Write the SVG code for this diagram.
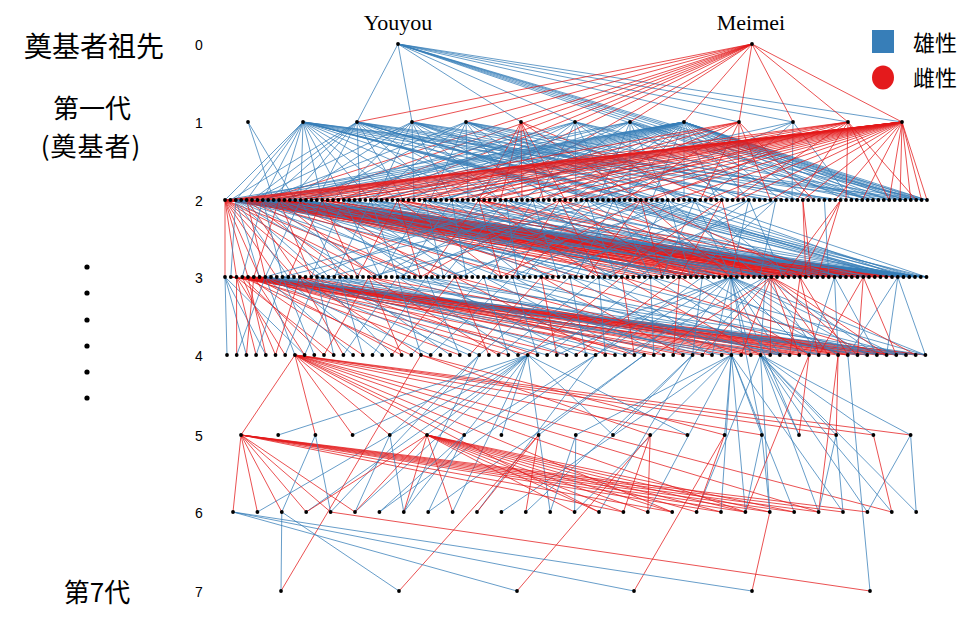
<svg xmlns="http://www.w3.org/2000/svg" width="978" height="626" viewBox="0 0 978 626">
<style>
.e path{fill:none;stroke-width:0.9;stroke-opacity:0.85}
.b{stroke:#377EB8}
.r{stroke:#E41A1C}
.n circle{fill:#000}
.lab{font-family:"Liberation Sans",Arial,sans-serif;font-size:14px;fill:#000;text-anchor:middle}
.cjk{font-family:"Noto Sans CJK SC","Noto Sans CJK JP",sans-serif;fill:#000}
.nm{font-family:"Liberation Serif","Times New Roman",serif;font-size:22px;fill:#000;text-anchor:middle}
</style>
<rect width="978" height="626" fill="#fff"/>
<g id="side-labels">
<text class="cjk" x="24" y="57" font-size="28">奠基者祖先</text>
<text class="cjk" x="92" y="118" font-size="26" text-anchor="middle">第一代</text>
<text class="cjk" x="91" y="156" font-size="26" text-anchor="middle" letter-spacing="1">(奠基者)</text>
<text class="cjk" x="97" y="602" font-size="26" text-anchor="middle">第7代</text>
<circle cx="87" cy="267" r="2.6"/><circle cx="87" cy="293" r="2.6"/><circle cx="87" cy="320" r="2.6"/><circle cx="87" cy="346" r="2.6"/><circle cx="87" cy="372" r="2.6"/><circle cx="87" cy="398" r="2.6"/>
</g>
<g id="gen-labels">
<text class="lab" x="199" y="50">0</text>
<text class="lab" x="199" y="128">1</text>
<text class="lab" x="199" y="206">2</text>
<text class="lab" x="199" y="283">3</text>
<text class="lab" x="199" y="361">4</text>
<text class="lab" x="199" y="441">5</text>
<text class="lab" x="199" y="518">6</text>
<text class="lab" x="199" y="597">7</text>
</g>
<g id="names">
<text class="nm" x="398" y="30">Youyou</text>
<text class="nm" x="751" y="30">Meimei</text>
</g>
<g id="legend">
<rect x="872" y="30" width="22" height="23" fill="#377EB8"/>
<text class="cjk" x="913" y="51" font-size="22">雄性</text>
<ellipse cx="883" cy="77.5" rx="11" ry="12" fill="#E41A1C"/>
<text class="cjk" x="913" y="86" font-size="22">雌性</text>
</g>
<g id="connectors" class="e">
<path class="b" d="M398 44L357 122M398 44L412 122M398 44L521 122M398 44L575 122M398 44L739 122M398 44L793 122M398 44L848 122M398 44L902 122M398 44L856.8 200M398 44L873 200M398 44L889.2 200M398 44L905.4 200M398 44L916.2 200M398 44L927 200"/>
<path class="r" d="M752 44L357 122M752 44L412 122M752 44L466 122M752 44L575 122M752 44L630 122M752 44L684 122M752 44L739 122M752 44L793 122M752 44L848 122M752 44L902 122M752 44L262.8 200M752 44L300.6 200M752 44L338.4 200M752 44L370.8 200M752 44L430.2 200M752 44L478.8 200"/>
<path class="b" d="M248 122L273.6 200M248 122L295.2 200"/>
<path class="b" d="M303 122L225 200M303 122L235.8 200M303 122L246.6 200M303 122L262.8 200M303 122L279 200M303 122L300.6 200M303 122L322.2 200M303 122L343.8 200M303 122L370.8 200M303 122L397.8 200M303 122L435.6 200M303 122L484.2 200M303 122L538.2 200M303 122L597.6 200M303 122L662.4 200M303 122L721.8 200M303 122L786.6 200M303 122L840.6 200M303 122L889.2 200M303 122L921.6 200M303 122L892 277M303 122L903.5 277M303 122L915 277M303 122L926.5 277"/>
<path class="b" d="M357 122L230.4 200M357 122L252 200M357 122L268.2 200M357 122L289.8 200M357 122L316.8 200M357 122L360 200M357 122L403.2 200M357 122L446.4 200M357 122L500.4 200M357 122L570.6 200M357 122L640.8 200M357 122L700.2 200M357 122L770.4 200M357 122L829.8 200M357 122L900 200M357 122L897.8 277M357 122L909.3 277M357 122L920.8 277"/>
<path class="b" d="M412 122L252 200M412 122L289.8 200M412 122L333 200M412 122L376.2 200M412 122L414 200M412 122L451.8 200M412 122L500.4 200M412 122L559.8 200M412 122L624.6 200M412 122L700.2 200M412 122L765 200M412 122L835.2 200M412 122L905.4 200M412 122L886.3 277M412 122L915 277"/>
<path class="b" d="M466 122L262.8 200M466 122L311.4 200M466 122L370.8 200M466 122L430.2 200M466 122L468 200M466 122L522 200M466 122L586.8 200M466 122L651.6 200M466 122L732.6 200M466 122L797.4 200M466 122L862.2 200M466 122L921.6 200M466 122L903.5 277M466 122L926.5 277"/>
<path class="r" d="M521 122L478.8 200M521 122L500.4 200M521 122L522 200M521 122L543.6 200M521 122L565.2 200M521 122L640.8 200M521 122L716.4 200"/>
<path class="b" d="M575 122L279 200M575 122L343.8 200M575 122L408.6 200M575 122L473.4 200M575 122L538.2 200M575 122L576 200M575 122L613.8 200M575 122L678.6 200M575 122L743.4 200M575 122L808.2 200M575 122L873 200M575 122L927 200"/>
<path class="b" d="M630 122L235.8 200M630 122L300.6 200M630 122L381.6 200M630 122L446.4 200M630 122L522 200M630 122L597.6 200M630 122L630 200M630 122L667.8 200M630 122L727.2 200M630 122L797.4 200M630 122L867.6 200M630 122L921.6 200"/>
<path class="b" d="M684 122L225 200M684 122L241.2 200M684 122L257.4 200M684 122L273.6 200M684 122L289.8 200M684 122L311.4 200M684 122L333 200M684 122L354.6 200M684 122L376.2 200M684 122L397.8 200M684 122L419.4 200M684 122L441 200M684 122L462.6 200M684 122L489.6 200M684 122L516.6 200M684 122L543.6 200M684 122L570.6 200M684 122L597.6 200M684 122L624.6 200M684 122L651.6 200M684 122L684 200M684 122L716.4 200M684 122L748.8 200M684 122L781.2 200M684 122L813.6 200M684 122L846 200M684 122L867.6 200M684 122L878.4 200M684 122L889.2 200M684 122L900 200M684 122L905.4 200M684 122L910.8 200M684 122L916.2 200M684 122L921.6 200M684 122L927 200"/>
<path class="r" d="M739 122L300.6 200M739 122L381.6 200M739 122L462.6 200M739 122L543.6 200M739 122L624.6 200M739 122L700.2 200M739 122L738 200M739 122L770.4 200M739 122L813.6 200"/>
<path class="b" d="M793 122L435.6 200M793 122L597.6 200M793 122L705.6 200M793 122L792 200M793 122L851.4 200"/>
<path class="r" d="M848 122L262.8 200M848 122L333 200M848 122L408.6 200M848 122L484.2 200M848 122L565.2 200M848 122L651.6 200M848 122L732.6 200M848 122L797.4 200M848 122L846 200M848 122L889.2 200M848 122L916.2 200"/>
<path class="r" d="M902 122L225 200M902 122L230.4 200M902 122L235.8 200M902 122L241.2 200M902 122L246.6 200M902 122L257.4 200M902 122L268.2 200M902 122L279 200M902 122L295.2 200M902 122L311.4 200M902 122L327.6 200M902 122L349.2 200M902 122L370.8 200M902 122L392.4 200M902 122L419.4 200M902 122L446.4 200M902 122L473.4 200M902 122L500.4 200M902 122L527.4 200M902 122L554.4 200M902 122L581.4 200M902 122L608.4 200M902 122L640.8 200M902 122L673.2 200M902 122L705.6 200M902 122L738 200M902 122L770.4 200M902 122L802.8 200M902 122L835.2 200M902 122L862.2 200M902 122L889.2 200M902 122L900 200M902 122L910.8 200M902 122L921.6 200M902 122L927 200"/>
<path class="r" d="M225 200L225 277M225 200L236.5 277M225 200L248 277M225 200L259.5 277M225 200L276.8 277M225 200L294 277M225 200L317 277M225 200L345.8 277M225 200L380.3 277M225 200L420.5 277M225 200L702.3 277M225 200L736.8 277M225 200L765.5 277M225 200L788.5 277M225 200L811.5 277M225 200L828.8 277M225 200L846 277M225 200L857.5 277M225 200L869 277M225 200L880.5 277M225 200L892 277M225 200L903.5 277"/>
<path class="r" d="M230.4 200L650.5 277M230.4 200L696.5 277M230.4 200L742.5 277M230.4 200L777 277M230.4 200L805.8 277M230.4 200L834.5 277M230.4 200L857.5 277M230.4 200L874.8 277M230.4 200L886.3 277"/>
<path class="r" d="M241.2 200L662 277M241.2 200L708 277M241.2 200L748.3 277M241.2 200L782.8 277M241.2 200L811.5 277M241.2 200L840.3 277M241.2 200L863.3 277M241.2 200L880.5 277M241.2 200L897.8 277"/>
<path class="r" d="M257.4 200L673.5 277M257.4 200L719.5 277M257.4 200L754 277M257.4 200L794.3 277M257.4 200L823 277M257.4 200L851.8 277M257.4 200L869 277M257.4 200L892 277"/>
<path class="r" d="M268.2 200L685 277M268.2 200L725.3 277M268.2 200L765.5 277M268.2 200L800 277M268.2 200L828.8 277M268.2 200L857.5 277M268.2 200L874.8 277"/>
<path class="r" d="M284.4 200L696.5 277M284.4 200L736.8 277M284.4 200L771.3 277M284.4 200L811.5 277M284.4 200L846 277M284.4 200L869 277"/>
<path class="b" d="M252 200L909.3 277M252 200L915 277M252 200L920.8 277M252 200L926.5 277M273.6 200L903.5 277M273.6 200L915 277M273.6 200L926.5 277M289.8 200L897.8 277M289.8 200L909.3 277M289.8 200L920.8 277"/>
<path class="b" d="M235.8 200L230.8 277M235.8 200L259.5 277M235.8 200L288.3 277M235.8 200L322.8 277M235.8 200L363 277M235.8 200L409 277M235.8 200L466.5 277M235.8 200L541.3 277M235.8 200L621.8 277M235.8 200L708 277M235.8 200L800 277M235.8 200L880.5 277M235.8 200L915 277M235.8 200L926.5 277"/>
<path class="r" d="M246.6 200L265.3 277M246.6 200L299.8 277M246.6 200L351.5 277M246.6 200L420.5 277M246.6 200L518.3 277M246.6 200L639 277M246.6 200L759.8 277M246.6 200L840.3 277M246.6 200L869 277M246.6 200L897.8 277"/>
<path class="b" d="M262.8 200L242.3 277M262.8 200L282.5 277M262.8 200L328.5 277M262.8 200L380.3 277M262.8 200L443.5 277M262.8 200L529.8 277M262.8 200L616 277M262.8 200L702.3 277M262.8 200L782.8 277M262.8 200L857.5 277M262.8 200L903.5 277M262.8 200L920.8 277"/>
<path class="r" d="M279 200L253.8 277M279 200L311.3 277M279 200L374.5 277M279 200L460.8 277M279 200L581.5 277M279 200L719.5 277M279 200L788.5 277M279 200L817.3 277M279 200L846 277M279 200L874.8 277"/>
<path class="b" d="M300.6 200L265.3 277M300.6 200L340 277M300.6 200L420.5 277M300.6 200L501 277M300.6 200L593 277M300.6 200L685 277M300.6 200L771.3 277M300.6 200L851.8 277M300.6 200L909.3 277M300.6 200L926.5 277"/>
<path class="r" d="M322.2 200L288.3 277M322.2 200L357.3 277M322.2 200L437.8 277M322.2 200L558.5 277M322.2 200L702.3 277M322.2 200L800 277M322.2 200L834.5 277M322.2 200L863.3 277"/>
<path class="b" d="M343.8 200L311.3 277M343.8 200L380.3 277M343.8 200L460.8 277M343.8 200L552.8 277M343.8 200L650.5 277M343.8 200L748.3 277M343.8 200L840.3 277M343.8 200L920.8 277"/>
<path class="b" d="M370.8 200L334.3 277M370.8 200L397.5 277M370.8 200L478 277M370.8 200L575.8 277M370.8 200L673.5 277M370.8 200L771.3 277M370.8 200L863.3 277M370.8 200L926.5 277"/>
<path class="r" d="M397.8 200L357.3 277M397.8 200L420.5 277M397.8 200L501 277M397.8 200L610.3 277M397.8 200L731 277M397.8 200L811.5 277M397.8 200L857.5 277"/>
<path class="b" d="M424.8 200L380.3 277M424.8 200L443.5 277M424.8 200L524 277M424.8 200L621.8 277M424.8 200L719.5 277M424.8 200L817.3 277M424.8 200L897.8 277"/>
<path class="b" d="M451.8 200L403.3 277M451.8 200L466.5 277M451.8 200L547 277M451.8 200L644.8 277M451.8 200L742.5 277M451.8 200L846 277M451.8 200L920.8 277"/>
<path class="r" d="M478.8 200L426.3 277M478.8 200L501 277M478.8 200L598.8 277M478.8 200L702.3 277M478.8 200L788.5 277M478.8 200L840.3 277M478.8 200L880.5 277"/>
<path class="b" d="M505.8 200L311.3 277M505.8 200L443.5 277M505.8 200L518.3 277M505.8 200L610.3 277M505.8 200L719.5 277M505.8 200L823 277M505.8 200L915 277"/>
<path class="b" d="M532.8 200L265.3 277M532.8 200L374.5 277M532.8 200L489.5 277M532.8 200L558.5 277M532.8 200L650.5 277M532.8 200L759.8 277M532.8 200L869 277"/>
<path class="r" d="M559.8 200L420.5 277M559.8 200L512.5 277M559.8 200L598.8 277M559.8 200L679.3 277M559.8 200L771.3 277M559.8 200L851.8 277"/>
<path class="b" d="M586.8 200L282.5 277M586.8 200L397.5 277M586.8 200L524 277M586.8 200L616 277M586.8 200L702.3 277M586.8 200L800 277M586.8 200L903.5 277"/>
<path class="b" d="M613.8 200L328.5 277M613.8 200L460.8 277M613.8 200L575.8 277M613.8 200L650.5 277M613.8 200L742.5 277M613.8 200L840.3 277"/>
<path class="r" d="M640.8 200L501 277M640.8 200L587.3 277M640.8 200L662 277M640.8 200L731 277M640.8 200L805.8 277"/>
<path class="b" d="M667.8 200L368.8 277M667.8 200L512.5 277M667.8 200L621.8 277M667.8 200L690.8 277M667.8 200L759.8 277"/>
<path class="b" d="M694.8 200L443.5 277M694.8 200L558.5 277M694.8 200L662 277M694.8 200L731 277M694.8 200L788.5 277"/>
<path class="r" d="M721.8 200L610.3 277M721.8 200L679.3 277M721.8 200L742.5 277"/>
<path class="b" d="M748.8 200L535.5 277M748.8 200L639 277M748.8 200L731 277M748.8 200L782.8 277"/>
<path class="b" d="M775.8 200L598.8 277M775.8 200L690.8 277M775.8 200L759.8 277"/>
<path class="r" d="M802.8 200L805.8 277M802.8 200L811.5 277"/>
<path class="b" d="M824.4 200L828.8 277"/>
<path class="r" d="M840.6 200L782.8 277M840.6 200L800 277M840.6 200L817.3 277"/>
<path class="b" d="M225 277L227 355M225 277L246.4 355M225 277L265.8 355M225 277L304.6 355"/>
<path class="r" d="M236.5 277L236.7 355M236.5 277L256.1 355M236.5 277L285.2 355M236.5 277L333.7 355"/>
<path class="r" d="M230.8 277L702.3 355M230.8 277L750.8 355M230.8 277L799.3 355M230.8 277L847.8 355M230.8 277L886.6 355M259.5 277L731.4 355M259.5 277L779.9 355M259.5 277L828.4 355M259.5 277L867.2 355M259.5 277L896.3 355M259.5 277L925.4 355"/>
<path class="r" d="M242.3 277L275.5 355M242.3 277L324 355M242.3 277L411.3 355M242.3 277L508.3 355M242.3 277L615 355M242.3 277L712 355M242.3 277L789.6 355M242.3 277L838.1 355M242.3 277L867.2 355M242.3 277L886.6 355M242.3 277L906 355M242.3 277L925.4 355"/>
<path class="r" d="M248 277L265.8 355M248 277L362.8 355M248 277L459.8 355M248 277L566.5 355M248 277L663.5 355M248 277L760.5 355M248 277L818.7 355M248 277L857.5 355M248 277L896.3 355M248 277L915.7 355"/>
<path class="r" d="M253.8 277L246.4 355M253.8 277L304.6 355M253.8 277L401.6 355M253.8 277L527.7 355M253.8 277L653.8 355M253.8 277L770.2 355M253.8 277L847.8 355M253.8 277L876.9 355"/>
<path class="b" d="M265.3 277L236.7 355M265.3 277L294.9 355M265.3 277L353.1 355M265.3 277L430.7 355M265.3 277L547.1 355M265.3 277L692.6 355M265.3 277L828.4 355M265.3 277L906 355"/>
<path class="b" d="M282.5 277L256.1 355M282.5 277L314.3 355M282.5 277L382.2 355M282.5 277L469.5 355M282.5 277L595.6 355M282.5 277L741.1 355M282.5 277L886.6 355"/>
<path class="r" d="M299.8 277L275.5 355M299.8 277L343.4 355M299.8 277L421 355M299.8 277L537.4 355M299.8 277L682.9 355M299.8 277L809 355"/>
<path class="b" d="M317 277L285.2 355M317 277L333.7 355M317 277L391.9 355M317 277L479.2 355M317 277L624.7 355M317 277L779.9 355M317 277L915.7 355"/>
<path class="b" d="M340 277L304.6 355M340 277L362.8 355M340 277L450.1 355M340 277L566.5 355M340 277L721.7 355M340 277L867.2 355"/>
<path class="r" d="M368.8 277L324 355M368.8 277L401.6 355M368.8 277L498.6 355M368.8 277L634.4 355M368.8 277L799.3 355"/>
<path class="b" d="M397.5 277L343.4 355M397.5 277L421 355M397.5 277L518 355M397.5 277L644.1 355M397.5 277L789.6 355M397.5 277L925.4 355"/>
<path class="b" d="M426.3 277L372.5 355M426.3 277L459.8 355M426.3 277L576.2 355M426.3 277L702.3 355M426.3 277L857.5 355"/>
<path class="r" d="M455 277L391.9 355M455 277L488.9 355M455 277L605.3 355M455 277L750.8 355"/>
<path class="b" d="M483.8 277L411.3 355M483.8 277L508.3 355M483.8 277L634.4 355M483.8 277L779.9 355M483.8 277L896.3 355"/>
<path class="b" d="M512.5 277L430.7 355M512.5 277L537.4 355M512.5 277L663.5 355M512.5 277L818.7 355"/>
<path class="r" d="M541.3 277L469.5 355M541.3 277L556.8 355M541.3 277L682.9 355M541.3 277L847.8 355"/>
<path class="b" d="M570 277L479.2 355M570 277L585.9 355M570 277L712 355M570 277L876.9 355"/>
<path class="b" d="M598.8 277L498.6 355M598.8 277L605.3 355M598.8 277L731.4 355M598.8 277L906 355"/>
<path class="r" d="M621.8 277L527.7 355M621.8 277L634.4 355M621.8 277L760.5 355M621.8 277L886.6 355"/>
<path class="b" d="M650.5 277L547.1 355M650.5 277L653.8 355M650.5 277L779.9 355M650.5 277L925.4 355"/>
<path class="r" d="M679.3 277L576.2 355M679.3 277L673.2 355M679.3 277L809 355"/>
<path class="b" d="M702.3 277L595.6 355M702.3 277L692.6 355M702.3 277L838.1 355"/>
<path class="b" d="M731 277L518 355M731 277L556.8 355M731 277L595.6 355M731 277L634.4 355M731 277L673.2 355M731 277L712 355M731 277L731.4 355M731 277L750.8 355M731 277L779.9 355M731 277L809 355M731 277L838.1 355M731 277L867.2 355M731 277L896.3 355M731 277L925.4 355M731 277L761.8 435M731 277L799 435"/>
<path class="b" d="M765.5 277L624.7 355M765.5 277L692.6 355M765.5 277L760.5 355M765.5 277L818.7 355M765.5 277L876.9 355"/>
<path class="r" d="M771.3 277L653.8 355M771.3 277L702.3 355M771.3 277L741.1 355M771.3 277L770.2 355M771.3 277L799.3 355M771.3 277L828.4 355M771.3 277L857.5 355M771.3 277L886.6 355M771.3 277L915.7 355"/>
<path class="r" d="M800 277L789.6 355M800 277L818.7 355M800 277L847.8 355"/>
<path class="b" d="M834.5 277L809 355M834.5 277L838.1 355M834.5 277L876.9 355"/>
<path class="r" d="M863.3 277L818.7 355M863.3 277L857.5 355M863.3 277L896.3 355"/>
<path class="b" d="M897.8 277L847.8 355M897.8 277L886.6 355M897.8 277L925.4 355"/>
<path class="r" d="M294.9 355L241 435M294.9 355L315.4 435M294.9 355L352.6 435M294.9 355L389.8 435M294.9 355L427 435M294.9 355L464.2 435M294.9 355L687.4 435M294.9 355L761.8 435M294.9 355L836.2 435M294.9 355L873.4 435M294.9 355L910.6 435M294.9 355L599 512M294.9 355L672.2 512M294.9 355L745.4 512M294.9 355L818.6 512M294.9 355L891.8 512"/>
<path class="b" d="M527.7 355L278.2 435M527.7 355L352.6 435M527.7 355L427 435M527.7 355L501.4 435M527.7 355L613 435M527.7 355L687.4 435M527.7 355L257.4 512M527.7 355L306.2 512M527.7 355L355 512M527.7 355L403.8 512M527.7 355L452.6 512M527.7 355L550.2 512"/>
<path class="b" d="M731.4 355L575.8 435M731.4 355L724.6 435M731.4 355L761.8 435M731.4 355L501.4 512M731.4 355L574.6 512M731.4 355L647.8 512M731.4 355L721 512M731.4 355L745.4 512M731.4 355L794.2 512M731.4 355L843 512"/>
<path class="b" d="M760.5 355L799 435M760.5 355L836.2 435M760.5 355L873.4 435M760.5 355L910.6 435M760.5 355L696.6 512M760.5 355L769.8 512M760.5 355L818.6 512M760.5 355L867.4 512M760.5 355L891.8 512M760.5 355L916.2 512"/>
<path class="r" d="M809 355L799 435M809 355L745.4 512M838.1 355L836.2 435M838.1 355L818.6 512"/>
<path class="b" d="M847.8 355L870 591"/>
<path class="r" d="M421 355L650.2 435M421 355L724.6 435M421 355L281 591"/>
<path class="b" d="M479.2 355L389.8 435M479.2 355L403.8 512M479.2 355L330.6 512M595.6 355L464.2 435M595.6 355L477 512M595.6 355L379.4 512M644.1 355L538.6 435M644.1 355L428.2 512M692.6 355L613 435M692.6 355L525.8 512M692.6 355L599 512"/>
<path class="r" d="M241 435L233 512M241 435L257.4 512M241 435L281.8 512M241 435L306.2 512M241 435L330.6 512M241 435L355 512M241 435L623.4 512M241 435L672.2 512M241 435L721 512M241 435L745.4 512M241 435L769.8 512M241 435L794.2 512M241 435L818.6 512M241 435L843 512M241 435L867.4 512"/>
<path class="r" d="M427 435L306.2 512M427 435L355 512M427 435L403.8 512M427 435L452.6 512M427 435L574.6 512M427 435L599 512M427 435L623.4 512M427 435L647.8 512M427 435L672.2 512M427 435L696.6 512M427 435L721 512M427 435L745.4 512M427 435L769.8 512M427 435L794.2 512"/>
<path class="b" d="M315.4 435L281.8 512M315.4 435L330.6 512M389.8 435L355 512M389.8 435L403.8 512M464.2 435L379.4 512M464.2 435L428.2 512M575.8 435L550.2 512M575.8 435L574.6 512M761.8 435L745.4 512M761.8 435L769.8 512M836.2 435L818.6 512M836.2 435L843 512M910.6 435L867.4 512M910.6 435L916.2 512"/>
<path class="r" d="M538.6 435L477 512M538.6 435L525.8 512M538.6 435L399 591M650.2 435L623.4 512M650.2 435L647.8 512M650.2 435L517 591M724.6 435L696.6 512M724.6 435L634 591M873.4 435L891.8 512"/>
<path class="b" d="M281.8 512L281 591M281.8 512L399 591M233 512L517 591M233 512L634 591M233 512L752 591"/>
<path class="r" d="M330.6 512L870 591M769.8 512L752 591"/>
</g>
<g id="nodes" class="n">
<g id="youyou"><circle cx="398" cy="44" r="1.9"/></g>
<g id="meimei"><circle cx="752" cy="44" r="1.9"/></g>
<g id="g1-0"><circle cx="248" cy="122" r="1.9"/></g>
<g id="g1-1"><circle cx="303" cy="122" r="1.9"/></g>
<g id="g1-2"><circle cx="357" cy="122" r="1.9"/></g>
<g id="g1-3"><circle cx="412" cy="122" r="1.9"/></g>
<g id="g1-4"><circle cx="466" cy="122" r="1.9"/></g>
<g id="g1-5"><circle cx="521" cy="122" r="1.9"/></g>
<g id="g1-6"><circle cx="575" cy="122" r="1.9"/></g>
<g id="g1-7"><circle cx="630" cy="122" r="1.9"/></g>
<g id="g1-8"><circle cx="684" cy="122" r="1.9"/></g>
<g id="g1-9"><circle cx="739" cy="122" r="1.9"/></g>
<g id="g1-10"><circle cx="793" cy="122" r="1.9"/></g>
<g id="g1-11"><circle cx="848" cy="122" r="1.9"/></g>
<g id="g1-12"><circle cx="902" cy="122" r="1.9"/></g>
<g id="g2-0"><circle cx="225" cy="200" r="1.9"/></g>
<g id="g2-1"><circle cx="230.4" cy="200" r="1.9"/></g>
<g id="g2-2"><circle cx="235.8" cy="200" r="1.9"/></g>
<g id="g2-3"><circle cx="241.2" cy="200" r="1.9"/></g>
<g id="g2-4"><circle cx="246.6" cy="200" r="1.9"/></g>
<g id="g2-5"><circle cx="252" cy="200" r="1.9"/></g>
<g id="g2-6"><circle cx="257.4" cy="200" r="1.9"/></g>
<g id="g2-7"><circle cx="262.8" cy="200" r="1.9"/></g>
<g id="g2-8"><circle cx="268.2" cy="200" r="1.9"/></g>
<g id="g2-9"><circle cx="273.6" cy="200" r="1.9"/></g>
<g id="g2-10"><circle cx="279" cy="200" r="1.9"/></g>
<g id="g2-11"><circle cx="284.4" cy="200" r="1.9"/></g>
<g id="g2-12"><circle cx="289.8" cy="200" r="1.9"/></g>
<g id="g2-13"><circle cx="295.2" cy="200" r="1.9"/></g>
<g id="g2-14"><circle cx="300.6" cy="200" r="1.9"/></g>
<g id="g2-15"><circle cx="306" cy="200" r="1.9"/></g>
<g id="g2-16"><circle cx="311.4" cy="200" r="1.9"/></g>
<g id="g2-17"><circle cx="316.8" cy="200" r="1.9"/></g>
<g id="g2-18"><circle cx="322.2" cy="200" r="1.9"/></g>
<g id="g2-19"><circle cx="327.6" cy="200" r="1.9"/></g>
<g id="g2-20"><circle cx="333" cy="200" r="1.9"/></g>
<g id="g2-21"><circle cx="338.4" cy="200" r="1.9"/></g>
<g id="g2-22"><circle cx="343.8" cy="200" r="1.9"/></g>
<g id="g2-23"><circle cx="349.2" cy="200" r="1.9"/></g>
<g id="g2-24"><circle cx="354.6" cy="200" r="1.9"/></g>
<g id="g2-25"><circle cx="360" cy="200" r="1.9"/></g>
<g id="g2-26"><circle cx="365.4" cy="200" r="1.9"/></g>
<g id="g2-27"><circle cx="370.8" cy="200" r="1.9"/></g>
<g id="g2-28"><circle cx="376.2" cy="200" r="1.9"/></g>
<g id="g2-29"><circle cx="381.6" cy="200" r="1.9"/></g>
<g id="g2-30"><circle cx="387" cy="200" r="1.9"/></g>
<g id="g2-31"><circle cx="392.4" cy="200" r="1.9"/></g>
<g id="g2-32"><circle cx="397.8" cy="200" r="1.9"/></g>
<g id="g2-33"><circle cx="403.2" cy="200" r="1.9"/></g>
<g id="g2-34"><circle cx="408.6" cy="200" r="1.9"/></g>
<g id="g2-35"><circle cx="414" cy="200" r="1.9"/></g>
<g id="g2-36"><circle cx="419.4" cy="200" r="1.9"/></g>
<g id="g2-37"><circle cx="424.8" cy="200" r="1.9"/></g>
<g id="g2-38"><circle cx="430.2" cy="200" r="1.9"/></g>
<g id="g2-39"><circle cx="435.6" cy="200" r="1.9"/></g>
<g id="g2-40"><circle cx="441" cy="200" r="1.9"/></g>
<g id="g2-41"><circle cx="446.4" cy="200" r="1.9"/></g>
<g id="g2-42"><circle cx="451.8" cy="200" r="1.9"/></g>
<g id="g2-43"><circle cx="457.2" cy="200" r="1.9"/></g>
<g id="g2-44"><circle cx="462.6" cy="200" r="1.9"/></g>
<g id="g2-45"><circle cx="468" cy="200" r="1.9"/></g>
<g id="g2-46"><circle cx="473.4" cy="200" r="1.9"/></g>
<g id="g2-47"><circle cx="478.8" cy="200" r="1.9"/></g>
<g id="g2-48"><circle cx="484.2" cy="200" r="1.9"/></g>
<g id="g2-49"><circle cx="489.6" cy="200" r="1.9"/></g>
<g id="g2-50"><circle cx="495" cy="200" r="1.9"/></g>
<g id="g2-51"><circle cx="500.4" cy="200" r="1.9"/></g>
<g id="g2-52"><circle cx="505.8" cy="200" r="1.9"/></g>
<g id="g2-53"><circle cx="511.2" cy="200" r="1.9"/></g>
<g id="g2-54"><circle cx="516.6" cy="200" r="1.9"/></g>
<g id="g2-55"><circle cx="522" cy="200" r="1.9"/></g>
<g id="g2-56"><circle cx="527.4" cy="200" r="1.9"/></g>
<g id="g2-57"><circle cx="532.8" cy="200" r="1.9"/></g>
<g id="g2-58"><circle cx="538.2" cy="200" r="1.9"/></g>
<g id="g2-59"><circle cx="543.6" cy="200" r="1.9"/></g>
<g id="g2-60"><circle cx="549" cy="200" r="1.9"/></g>
<g id="g2-61"><circle cx="554.4" cy="200" r="1.9"/></g>
<g id="g2-62"><circle cx="559.8" cy="200" r="1.9"/></g>
<g id="g2-63"><circle cx="565.2" cy="200" r="1.9"/></g>
<g id="g2-64"><circle cx="570.6" cy="200" r="1.9"/></g>
<g id="g2-65"><circle cx="576" cy="200" r="1.9"/></g>
<g id="g2-66"><circle cx="581.4" cy="200" r="1.9"/></g>
<g id="g2-67"><circle cx="586.8" cy="200" r="1.9"/></g>
<g id="g2-68"><circle cx="592.2" cy="200" r="1.9"/></g>
<g id="g2-69"><circle cx="597.6" cy="200" r="1.9"/></g>
<g id="g2-70"><circle cx="603" cy="200" r="1.9"/></g>
<g id="g2-71"><circle cx="608.4" cy="200" r="1.9"/></g>
<g id="g2-72"><circle cx="613.8" cy="200" r="1.9"/></g>
<g id="g2-73"><circle cx="619.2" cy="200" r="1.9"/></g>
<g id="g2-74"><circle cx="624.6" cy="200" r="1.9"/></g>
<g id="g2-75"><circle cx="630" cy="200" r="1.9"/></g>
<g id="g2-76"><circle cx="635.4" cy="200" r="1.9"/></g>
<g id="g2-77"><circle cx="640.8" cy="200" r="1.9"/></g>
<g id="g2-78"><circle cx="646.2" cy="200" r="1.9"/></g>
<g id="g2-79"><circle cx="651.6" cy="200" r="1.9"/></g>
<g id="g2-80"><circle cx="657" cy="200" r="1.9"/></g>
<g id="g2-81"><circle cx="662.4" cy="200" r="1.9"/></g>
<g id="g2-82"><circle cx="667.8" cy="200" r="1.9"/></g>
<g id="g2-83"><circle cx="673.2" cy="200" r="1.9"/></g>
<g id="g2-84"><circle cx="678.6" cy="200" r="1.9"/></g>
<g id="g2-85"><circle cx="684" cy="200" r="1.9"/></g>
<g id="g2-86"><circle cx="689.4" cy="200" r="1.9"/></g>
<g id="g2-87"><circle cx="694.8" cy="200" r="1.9"/></g>
<g id="g2-88"><circle cx="700.2" cy="200" r="1.9"/></g>
<g id="g2-89"><circle cx="705.6" cy="200" r="1.9"/></g>
<g id="g2-90"><circle cx="711" cy="200" r="1.9"/></g>
<g id="g2-91"><circle cx="716.4" cy="200" r="1.9"/></g>
<g id="g2-92"><circle cx="721.8" cy="200" r="1.9"/></g>
<g id="g2-93"><circle cx="727.2" cy="200" r="1.9"/></g>
<g id="g2-94"><circle cx="732.6" cy="200" r="1.9"/></g>
<g id="g2-95"><circle cx="738" cy="200" r="1.9"/></g>
<g id="g2-96"><circle cx="743.4" cy="200" r="1.9"/></g>
<g id="g2-97"><circle cx="748.8" cy="200" r="1.9"/></g>
<g id="g2-98"><circle cx="754.2" cy="200" r="1.9"/></g>
<g id="g2-99"><circle cx="759.6" cy="200" r="1.9"/></g>
<g id="g2-100"><circle cx="765" cy="200" r="1.9"/></g>
<g id="g2-101"><circle cx="770.4" cy="200" r="1.9"/></g>
<g id="g2-102"><circle cx="775.8" cy="200" r="1.9"/></g>
<g id="g2-103"><circle cx="781.2" cy="200" r="1.9"/></g>
<g id="g2-104"><circle cx="786.6" cy="200" r="1.9"/></g>
<g id="g2-105"><circle cx="792" cy="200" r="1.9"/></g>
<g id="g2-106"><circle cx="797.4" cy="200" r="1.9"/></g>
<g id="g2-107"><circle cx="802.8" cy="200" r="1.9"/></g>
<g id="g2-108"><circle cx="808.2" cy="200" r="1.9"/></g>
<g id="g2-109"><circle cx="813.6" cy="200" r="1.9"/></g>
<g id="g2-110"><circle cx="819" cy="200" r="1.9"/></g>
<g id="g2-111"><circle cx="824.4" cy="200" r="1.9"/></g>
<g id="g2-112"><circle cx="829.8" cy="200" r="1.9"/></g>
<g id="g2-113"><circle cx="835.2" cy="200" r="1.9"/></g>
<g id="g2-114"><circle cx="840.6" cy="200" r="1.9"/></g>
<g id="g2-115"><circle cx="846" cy="200" r="1.9"/></g>
<g id="g2-116"><circle cx="851.4" cy="200" r="1.9"/></g>
<g id="g2-117"><circle cx="856.8" cy="200" r="1.9"/></g>
<g id="g2-118"><circle cx="862.2" cy="200" r="1.9"/></g>
<g id="g2-119"><circle cx="867.6" cy="200" r="1.9"/></g>
<g id="g2-120"><circle cx="873" cy="200" r="1.9"/></g>
<g id="g2-121"><circle cx="878.4" cy="200" r="1.9"/></g>
<g id="g2-122"><circle cx="883.8" cy="200" r="1.9"/></g>
<g id="g2-123"><circle cx="889.2" cy="200" r="1.9"/></g>
<g id="g2-124"><circle cx="894.6" cy="200" r="1.9"/></g>
<g id="g2-125"><circle cx="900" cy="200" r="1.9"/></g>
<g id="g2-126"><circle cx="905.4" cy="200" r="1.9"/></g>
<g id="g2-127"><circle cx="910.8" cy="200" r="1.9"/></g>
<g id="g2-128"><circle cx="916.2" cy="200" r="1.9"/></g>
<g id="g2-129"><circle cx="921.6" cy="200" r="1.9"/></g>
<g id="g2-130"><circle cx="927" cy="200" r="1.9"/></g>
<g id="g3-0"><circle cx="225" cy="277" r="1.9"/></g>
<g id="g3-1"><circle cx="230.8" cy="277" r="1.9"/></g>
<g id="g3-2"><circle cx="236.5" cy="277" r="1.9"/></g>
<g id="g3-3"><circle cx="242.3" cy="277" r="1.9"/></g>
<g id="g3-4"><circle cx="248" cy="277" r="1.9"/></g>
<g id="g3-5"><circle cx="253.8" cy="277" r="1.9"/></g>
<g id="g3-6"><circle cx="259.5" cy="277" r="1.9"/></g>
<g id="g3-7"><circle cx="265.3" cy="277" r="1.9"/></g>
<g id="g3-8"><circle cx="271" cy="277" r="1.9"/></g>
<g id="g3-9"><circle cx="276.8" cy="277" r="1.9"/></g>
<g id="g3-10"><circle cx="282.5" cy="277" r="1.9"/></g>
<g id="g3-11"><circle cx="288.3" cy="277" r="1.9"/></g>
<g id="g3-12"><circle cx="294" cy="277" r="1.9"/></g>
<g id="g3-13"><circle cx="299.8" cy="277" r="1.9"/></g>
<g id="g3-14"><circle cx="305.5" cy="277" r="1.9"/></g>
<g id="g3-15"><circle cx="311.3" cy="277" r="1.9"/></g>
<g id="g3-16"><circle cx="317" cy="277" r="1.9"/></g>
<g id="g3-17"><circle cx="322.8" cy="277" r="1.9"/></g>
<g id="g3-18"><circle cx="328.5" cy="277" r="1.9"/></g>
<g id="g3-19"><circle cx="334.3" cy="277" r="1.9"/></g>
<g id="g3-20"><circle cx="340" cy="277" r="1.9"/></g>
<g id="g3-21"><circle cx="345.8" cy="277" r="1.9"/></g>
<g id="g3-22"><circle cx="351.5" cy="277" r="1.9"/></g>
<g id="g3-23"><circle cx="357.3" cy="277" r="1.9"/></g>
<g id="g3-24"><circle cx="363" cy="277" r="1.9"/></g>
<g id="g3-25"><circle cx="368.8" cy="277" r="1.9"/></g>
<g id="g3-26"><circle cx="374.5" cy="277" r="1.9"/></g>
<g id="g3-27"><circle cx="380.3" cy="277" r="1.9"/></g>
<g id="g3-28"><circle cx="386" cy="277" r="1.9"/></g>
<g id="g3-29"><circle cx="391.8" cy="277" r="1.9"/></g>
<g id="g3-30"><circle cx="397.5" cy="277" r="1.9"/></g>
<g id="g3-31"><circle cx="403.3" cy="277" r="1.9"/></g>
<g id="g3-32"><circle cx="409" cy="277" r="1.9"/></g>
<g id="g3-33"><circle cx="414.8" cy="277" r="1.9"/></g>
<g id="g3-34"><circle cx="420.5" cy="277" r="1.9"/></g>
<g id="g3-35"><circle cx="426.3" cy="277" r="1.9"/></g>
<g id="g3-36"><circle cx="432" cy="277" r="1.9"/></g>
<g id="g3-37"><circle cx="437.8" cy="277" r="1.9"/></g>
<g id="g3-38"><circle cx="443.5" cy="277" r="1.9"/></g>
<g id="g3-39"><circle cx="449.3" cy="277" r="1.9"/></g>
<g id="g3-40"><circle cx="455" cy="277" r="1.9"/></g>
<g id="g3-41"><circle cx="460.8" cy="277" r="1.9"/></g>
<g id="g3-42"><circle cx="466.5" cy="277" r="1.9"/></g>
<g id="g3-43"><circle cx="472.3" cy="277" r="1.9"/></g>
<g id="g3-44"><circle cx="478" cy="277" r="1.9"/></g>
<g id="g3-45"><circle cx="483.8" cy="277" r="1.9"/></g>
<g id="g3-46"><circle cx="489.5" cy="277" r="1.9"/></g>
<g id="g3-47"><circle cx="495.3" cy="277" r="1.9"/></g>
<g id="g3-48"><circle cx="501" cy="277" r="1.9"/></g>
<g id="g3-49"><circle cx="506.8" cy="277" r="1.9"/></g>
<g id="g3-50"><circle cx="512.5" cy="277" r="1.9"/></g>
<g id="g3-51"><circle cx="518.3" cy="277" r="1.9"/></g>
<g id="g3-52"><circle cx="524" cy="277" r="1.9"/></g>
<g id="g3-53"><circle cx="529.8" cy="277" r="1.9"/></g>
<g id="g3-54"><circle cx="535.5" cy="277" r="1.9"/></g>
<g id="g3-55"><circle cx="541.3" cy="277" r="1.9"/></g>
<g id="g3-56"><circle cx="547" cy="277" r="1.9"/></g>
<g id="g3-57"><circle cx="552.8" cy="277" r="1.9"/></g>
<g id="g3-58"><circle cx="558.5" cy="277" r="1.9"/></g>
<g id="g3-59"><circle cx="564.3" cy="277" r="1.9"/></g>
<g id="g3-60"><circle cx="570" cy="277" r="1.9"/></g>
<g id="g3-61"><circle cx="575.8" cy="277" r="1.9"/></g>
<g id="g3-62"><circle cx="581.5" cy="277" r="1.9"/></g>
<g id="g3-63"><circle cx="587.3" cy="277" r="1.9"/></g>
<g id="g3-64"><circle cx="593" cy="277" r="1.9"/></g>
<g id="g3-65"><circle cx="598.8" cy="277" r="1.9"/></g>
<g id="g3-66"><circle cx="604.5" cy="277" r="1.9"/></g>
<g id="g3-67"><circle cx="610.3" cy="277" r="1.9"/></g>
<g id="g3-68"><circle cx="616" cy="277" r="1.9"/></g>
<g id="g3-69"><circle cx="621.8" cy="277" r="1.9"/></g>
<g id="g3-70"><circle cx="627.5" cy="277" r="1.9"/></g>
<g id="g3-71"><circle cx="633.3" cy="277" r="1.9"/></g>
<g id="g3-72"><circle cx="639" cy="277" r="1.9"/></g>
<g id="g3-73"><circle cx="644.8" cy="277" r="1.9"/></g>
<g id="g3-74"><circle cx="650.5" cy="277" r="1.9"/></g>
<g id="g3-75"><circle cx="656.3" cy="277" r="1.9"/></g>
<g id="g3-76"><circle cx="662" cy="277" r="1.9"/></g>
<g id="g3-77"><circle cx="667.8" cy="277" r="1.9"/></g>
<g id="g3-78"><circle cx="673.5" cy="277" r="1.9"/></g>
<g id="g3-79"><circle cx="679.3" cy="277" r="1.9"/></g>
<g id="g3-80"><circle cx="685" cy="277" r="1.9"/></g>
<g id="g3-81"><circle cx="690.8" cy="277" r="1.9"/></g>
<g id="g3-82"><circle cx="696.5" cy="277" r="1.9"/></g>
<g id="g3-83"><circle cx="702.3" cy="277" r="1.9"/></g>
<g id="g3-84"><circle cx="708" cy="277" r="1.9"/></g>
<g id="g3-85"><circle cx="713.8" cy="277" r="1.9"/></g>
<g id="g3-86"><circle cx="719.5" cy="277" r="1.9"/></g>
<g id="g3-87"><circle cx="725.3" cy="277" r="1.9"/></g>
<g id="g3-88"><circle cx="731" cy="277" r="1.9"/></g>
<g id="g3-89"><circle cx="736.8" cy="277" r="1.9"/></g>
<g id="g3-90"><circle cx="742.5" cy="277" r="1.9"/></g>
<g id="g3-91"><circle cx="748.3" cy="277" r="1.9"/></g>
<g id="g3-92"><circle cx="754" cy="277" r="1.9"/></g>
<g id="g3-93"><circle cx="759.8" cy="277" r="1.9"/></g>
<g id="g3-94"><circle cx="765.5" cy="277" r="1.9"/></g>
<g id="g3-95"><circle cx="771.3" cy="277" r="1.9"/></g>
<g id="g3-96"><circle cx="777" cy="277" r="1.9"/></g>
<g id="g3-97"><circle cx="782.8" cy="277" r="1.9"/></g>
<g id="g3-98"><circle cx="788.5" cy="277" r="1.9"/></g>
<g id="g3-99"><circle cx="794.3" cy="277" r="1.9"/></g>
<g id="g3-100"><circle cx="800" cy="277" r="1.9"/></g>
<g id="g3-101"><circle cx="805.8" cy="277" r="1.9"/></g>
<g id="g3-102"><circle cx="811.5" cy="277" r="1.9"/></g>
<g id="g3-103"><circle cx="817.3" cy="277" r="1.9"/></g>
<g id="g3-104"><circle cx="823" cy="277" r="1.9"/></g>
<g id="g3-105"><circle cx="828.8" cy="277" r="1.9"/></g>
<g id="g3-106"><circle cx="834.5" cy="277" r="1.9"/></g>
<g id="g3-107"><circle cx="840.3" cy="277" r="1.9"/></g>
<g id="g3-108"><circle cx="846" cy="277" r="1.9"/></g>
<g id="g3-109"><circle cx="851.8" cy="277" r="1.9"/></g>
<g id="g3-110"><circle cx="857.5" cy="277" r="1.9"/></g>
<g id="g3-111"><circle cx="863.3" cy="277" r="1.9"/></g>
<g id="g3-112"><circle cx="869" cy="277" r="1.9"/></g>
<g id="g3-113"><circle cx="874.8" cy="277" r="1.9"/></g>
<g id="g3-114"><circle cx="880.5" cy="277" r="1.9"/></g>
<g id="g3-115"><circle cx="886.3" cy="277" r="1.9"/></g>
<g id="g3-116"><circle cx="892" cy="277" r="1.9"/></g>
<g id="g3-117"><circle cx="897.8" cy="277" r="1.9"/></g>
<g id="g3-118"><circle cx="903.5" cy="277" r="1.9"/></g>
<g id="g3-119"><circle cx="909.3" cy="277" r="1.9"/></g>
<g id="g3-120"><circle cx="915" cy="277" r="1.9"/></g>
<g id="g3-121"><circle cx="920.8" cy="277" r="1.9"/></g>
<g id="g3-122"><circle cx="926.5" cy="277" r="1.9"/></g>
<g id="g4-0"><circle cx="227" cy="355" r="1.9"/></g>
<g id="g4-1"><circle cx="236.7" cy="355" r="1.9"/></g>
<g id="g4-2"><circle cx="246.4" cy="355" r="1.9"/></g>
<g id="g4-3"><circle cx="256.1" cy="355" r="1.9"/></g>
<g id="g4-4"><circle cx="265.8" cy="355" r="1.9"/></g>
<g id="g4-5"><circle cx="275.5" cy="355" r="1.9"/></g>
<g id="g4-6"><circle cx="285.2" cy="355" r="1.9"/></g>
<g id="g4-7"><circle cx="294.9" cy="355" r="1.9"/></g>
<g id="g4-8"><circle cx="304.6" cy="355" r="1.9"/></g>
<g id="g4-9"><circle cx="314.3" cy="355" r="1.9"/></g>
<g id="g4-10"><circle cx="324" cy="355" r="1.9"/></g>
<g id="g4-11"><circle cx="333.7" cy="355" r="1.9"/></g>
<g id="g4-12"><circle cx="343.4" cy="355" r="1.9"/></g>
<g id="g4-13"><circle cx="353.1" cy="355" r="1.9"/></g>
<g id="g4-14"><circle cx="362.8" cy="355" r="1.9"/></g>
<g id="g4-15"><circle cx="372.5" cy="355" r="1.9"/></g>
<g id="g4-16"><circle cx="382.2" cy="355" r="1.9"/></g>
<g id="g4-17"><circle cx="391.9" cy="355" r="1.9"/></g>
<g id="g4-18"><circle cx="401.6" cy="355" r="1.9"/></g>
<g id="g4-19"><circle cx="411.3" cy="355" r="1.9"/></g>
<g id="g4-20"><circle cx="421" cy="355" r="1.9"/></g>
<g id="g4-21"><circle cx="430.7" cy="355" r="1.9"/></g>
<g id="g4-22"><circle cx="440.4" cy="355" r="1.9"/></g>
<g id="g4-23"><circle cx="450.1" cy="355" r="1.9"/></g>
<g id="g4-24"><circle cx="459.8" cy="355" r="1.9"/></g>
<g id="g4-25"><circle cx="469.5" cy="355" r="1.9"/></g>
<g id="g4-26"><circle cx="479.2" cy="355" r="1.9"/></g>
<g id="g4-27"><circle cx="488.9" cy="355" r="1.9"/></g>
<g id="g4-28"><circle cx="498.6" cy="355" r="1.9"/></g>
<g id="g4-29"><circle cx="508.3" cy="355" r="1.9"/></g>
<g id="g4-30"><circle cx="518" cy="355" r="1.9"/></g>
<g id="g4-31"><circle cx="527.7" cy="355" r="1.9"/></g>
<g id="g4-32"><circle cx="537.4" cy="355" r="1.9"/></g>
<g id="g4-33"><circle cx="547.1" cy="355" r="1.9"/></g>
<g id="g4-34"><circle cx="556.8" cy="355" r="1.9"/></g>
<g id="g4-35"><circle cx="566.5" cy="355" r="1.9"/></g>
<g id="g4-36"><circle cx="576.2" cy="355" r="1.9"/></g>
<g id="g4-37"><circle cx="585.9" cy="355" r="1.9"/></g>
<g id="g4-38"><circle cx="595.6" cy="355" r="1.9"/></g>
<g id="g4-39"><circle cx="605.3" cy="355" r="1.9"/></g>
<g id="g4-40"><circle cx="615" cy="355" r="1.9"/></g>
<g id="g4-41"><circle cx="624.7" cy="355" r="1.9"/></g>
<g id="g4-42"><circle cx="634.4" cy="355" r="1.9"/></g>
<g id="g4-43"><circle cx="644.1" cy="355" r="1.9"/></g>
<g id="g4-44"><circle cx="653.8" cy="355" r="1.9"/></g>
<g id="g4-45"><circle cx="663.5" cy="355" r="1.9"/></g>
<g id="g4-46"><circle cx="673.2" cy="355" r="1.9"/></g>
<g id="g4-47"><circle cx="682.9" cy="355" r="1.9"/></g>
<g id="g4-48"><circle cx="692.6" cy="355" r="1.9"/></g>
<g id="g4-49"><circle cx="702.3" cy="355" r="1.9"/></g>
<g id="g4-50"><circle cx="712" cy="355" r="1.9"/></g>
<g id="g4-51"><circle cx="721.7" cy="355" r="1.9"/></g>
<g id="g4-52"><circle cx="731.4" cy="355" r="1.9"/></g>
<g id="g4-53"><circle cx="741.1" cy="355" r="1.9"/></g>
<g id="g4-54"><circle cx="750.8" cy="355" r="1.9"/></g>
<g id="g4-55"><circle cx="760.5" cy="355" r="1.9"/></g>
<g id="g4-56"><circle cx="770.2" cy="355" r="1.9"/></g>
<g id="g4-57"><circle cx="779.9" cy="355" r="1.9"/></g>
<g id="g4-58"><circle cx="789.6" cy="355" r="1.9"/></g>
<g id="g4-59"><circle cx="799.3" cy="355" r="1.9"/></g>
<g id="g4-60"><circle cx="809" cy="355" r="1.9"/></g>
<g id="g4-61"><circle cx="818.7" cy="355" r="1.9"/></g>
<g id="g4-62"><circle cx="828.4" cy="355" r="1.9"/></g>
<g id="g4-63"><circle cx="838.1" cy="355" r="1.9"/></g>
<g id="g4-64"><circle cx="847.8" cy="355" r="1.9"/></g>
<g id="g4-65"><circle cx="857.5" cy="355" r="1.9"/></g>
<g id="g4-66"><circle cx="867.2" cy="355" r="1.9"/></g>
<g id="g4-67"><circle cx="876.9" cy="355" r="1.9"/></g>
<g id="g4-68"><circle cx="886.6" cy="355" r="1.9"/></g>
<g id="g4-69"><circle cx="896.3" cy="355" r="1.9"/></g>
<g id="g4-70"><circle cx="906" cy="355" r="1.9"/></g>
<g id="g4-71"><circle cx="915.7" cy="355" r="1.9"/></g>
<g id="g4-72"><circle cx="925.4" cy="355" r="1.9"/></g>
<g id="g5-0"><circle cx="241" cy="435" r="1.9"/></g>
<g id="g5-1"><circle cx="278.2" cy="435" r="1.9"/></g>
<g id="g5-2"><circle cx="315.4" cy="435" r="1.9"/></g>
<g id="g5-3"><circle cx="352.6" cy="435" r="1.9"/></g>
<g id="g5-4"><circle cx="389.8" cy="435" r="1.9"/></g>
<g id="g5-5"><circle cx="427" cy="435" r="1.9"/></g>
<g id="g5-6"><circle cx="464.2" cy="435" r="1.9"/></g>
<g id="g5-7"><circle cx="501.4" cy="435" r="1.9"/></g>
<g id="g5-8"><circle cx="538.6" cy="435" r="1.9"/></g>
<g id="g5-9"><circle cx="575.8" cy="435" r="1.9"/></g>
<g id="g5-10"><circle cx="613" cy="435" r="1.9"/></g>
<g id="g5-11"><circle cx="650.2" cy="435" r="1.9"/></g>
<g id="g5-12"><circle cx="687.4" cy="435" r="1.9"/></g>
<g id="g5-13"><circle cx="724.6" cy="435" r="1.9"/></g>
<g id="g5-14"><circle cx="761.8" cy="435" r="1.9"/></g>
<g id="g5-15"><circle cx="799" cy="435" r="1.9"/></g>
<g id="g5-16"><circle cx="836.2" cy="435" r="1.9"/></g>
<g id="g5-17"><circle cx="873.4" cy="435" r="1.9"/></g>
<g id="g5-18"><circle cx="910.6" cy="435" r="1.9"/></g>
<g id="g6-0"><circle cx="233" cy="512" r="1.9"/></g>
<g id="g6-1"><circle cx="257.4" cy="512" r="1.9"/></g>
<g id="g6-2"><circle cx="281.8" cy="512" r="1.9"/></g>
<g id="g6-3"><circle cx="306.2" cy="512" r="1.9"/></g>
<g id="g6-4"><circle cx="330.6" cy="512" r="1.9"/></g>
<g id="g6-5"><circle cx="355" cy="512" r="1.9"/></g>
<g id="g6-6"><circle cx="379.4" cy="512" r="1.9"/></g>
<g id="g6-7"><circle cx="403.8" cy="512" r="1.9"/></g>
<g id="g6-8"><circle cx="428.2" cy="512" r="1.9"/></g>
<g id="g6-9"><circle cx="452.6" cy="512" r="1.9"/></g>
<g id="g6-10"><circle cx="477" cy="512" r="1.9"/></g>
<g id="g6-11"><circle cx="501.4" cy="512" r="1.9"/></g>
<g id="g6-12"><circle cx="525.8" cy="512" r="1.9"/></g>
<g id="g6-13"><circle cx="550.2" cy="512" r="1.9"/></g>
<g id="g6-14"><circle cx="574.6" cy="512" r="1.9"/></g>
<g id="g6-15"><circle cx="599" cy="512" r="1.9"/></g>
<g id="g6-16"><circle cx="623.4" cy="512" r="1.9"/></g>
<g id="g6-17"><circle cx="647.8" cy="512" r="1.9"/></g>
<g id="g6-18"><circle cx="672.2" cy="512" r="1.9"/></g>
<g id="g6-19"><circle cx="696.6" cy="512" r="1.9"/></g>
<g id="g6-20"><circle cx="721" cy="512" r="1.9"/></g>
<g id="g6-21"><circle cx="745.4" cy="512" r="1.9"/></g>
<g id="g6-22"><circle cx="769.8" cy="512" r="1.9"/></g>
<g id="g6-23"><circle cx="794.2" cy="512" r="1.9"/></g>
<g id="g6-24"><circle cx="818.6" cy="512" r="1.9"/></g>
<g id="g6-25"><circle cx="843" cy="512" r="1.9"/></g>
<g id="g6-26"><circle cx="867.4" cy="512" r="1.9"/></g>
<g id="g6-27"><circle cx="891.8" cy="512" r="1.9"/></g>
<g id="g6-28"><circle cx="916.2" cy="512" r="1.9"/></g>
<g id="g7-0"><circle cx="281" cy="591" r="1.9"/></g>
<g id="g7-1"><circle cx="399" cy="591" r="1.9"/></g>
<g id="g7-2"><circle cx="517" cy="591" r="1.9"/></g>
<g id="g7-3"><circle cx="634" cy="591" r="1.9"/></g>
<g id="g7-4"><circle cx="752" cy="591" r="1.9"/></g>
<g id="g7-5"><circle cx="870" cy="591" r="1.9"/></g>
</g>
</svg>
